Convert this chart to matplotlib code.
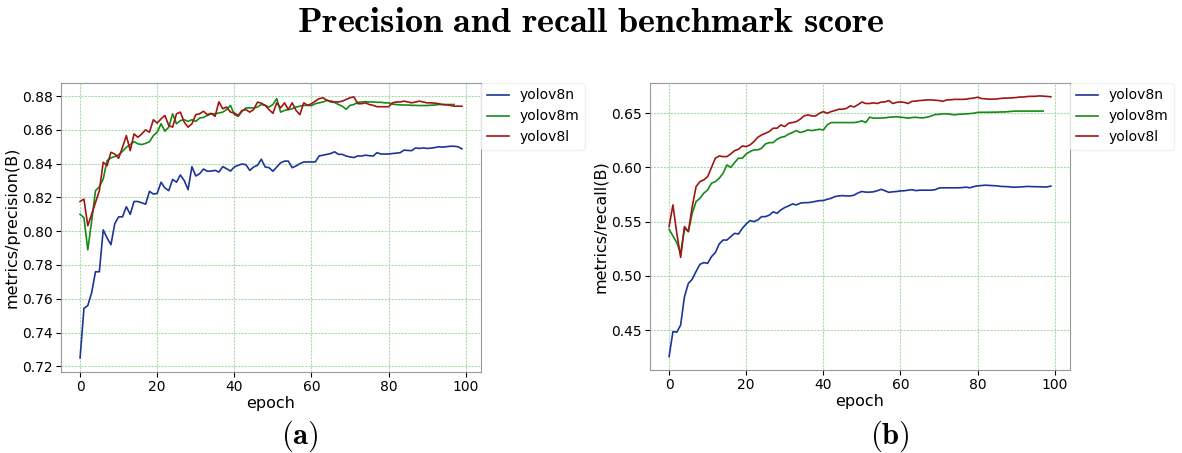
import numpy as np
import matplotlib
matplotlib.use('Agg')
import matplotlib.pyplot as plt

plt.rcParams['mathtext.fontset'] = 'cm'

labels = ['yolov8n', 'yolov8m', 'yolov8l']
colors = ['#1c3596', '#158a15', '#a01515']

# precision(B) per epoch
prec_n = [0.725, 0.7543, 0.756, 0.7636, 0.776, 0.776, 0.8008, 0.796, 0.792, 0.8045,
          0.8085, 0.8085, 0.8145, 0.810, 0.8176, 0.8176, 0.8168, 0.816, 0.8236, 0.822,
          0.8224, 0.829, 0.8256, 0.824, 0.8307, 0.829, 0.8333, 0.830, 0.8246, 0.8382,
          0.8327, 0.834, 0.8368, 0.8355, 0.8356, 0.836, 0.835, 0.8382, 0.837, 0.8356,
          0.838, 0.839, 0.8398, 0.8394, 0.836, 0.838, 0.839, 0.8426, 0.838, 0.8376,
          0.8355, 0.838, 0.8405, 0.8415, 0.8415, 0.8376, 0.8386, 0.840, 0.841, 0.841,
          0.841, 0.841, 0.8446, 0.845, 0.8455, 0.846, 0.847, 0.8455, 0.8455, 0.8445,
          0.844, 0.8436, 0.8446, 0.8445, 0.845, 0.8447, 0.8445, 0.8465, 0.8457, 0.8457,
          0.8457, 0.846, 0.8462, 0.8465, 0.848, 0.8478, 0.8477, 0.8493, 0.849, 0.8493,
          0.849, 0.8492, 0.8495, 0.850, 0.8498, 0.850, 0.8503, 0.8503, 0.850, 0.8488]
prec_m = [0.810, 0.808, 0.789, 0.806, 0.824, 0.8263, 0.8309, 0.8418, 0.8434, 0.8442,
          0.8453, 0.8473, 0.8497, 0.8513, 0.853, 0.8517, 0.8513, 0.852, 0.853, 0.8566,
          0.8586, 0.8636, 0.8592, 0.8616, 0.8695, 0.8636, 0.8655, 0.866, 0.865, 0.866,
          0.865, 0.867, 0.8674, 0.8685, 0.8695, 0.8695, 0.870, 0.8705, 0.872, 0.8745,
          0.869, 0.868, 0.871, 0.873, 0.873, 0.873, 0.8735, 0.875, 0.8745, 0.8735,
          0.875, 0.8785, 0.8705, 0.8715, 0.872, 0.8725, 0.8735, 0.874, 0.8745, 0.8745,
          0.8743, 0.8755, 0.876, 0.8765, 0.8775, 0.8765, 0.8762, 0.875, 0.874, 0.8722,
          0.8745, 0.875, 0.8763, 0.8765, 0.8767, 0.8765, 0.8765, 0.8763, 0.8763, 0.876,
          0.876, 0.8752, 0.875, 0.8748, 0.8747, 0.8747, 0.8745, 0.8745, 0.8744, 0.8744,
          0.8744, 0.8746, 0.8747, 0.875, 0.875, 0.875, 0.875, 0.875]
prec_l = [0.8176, 0.819, 0.8032, 0.810, 0.817, 0.824, 0.8408, 0.8388, 0.8467, 0.8457,
          0.8432, 0.8497, 0.8566, 0.8477, 0.8576, 0.8556, 0.8576, 0.860, 0.8586, 0.866,
          0.864, 0.8665, 0.8685, 0.8626, 0.8616, 0.8695, 0.8705, 0.8646, 0.8616, 0.8636,
          0.869, 0.8695, 0.871, 0.869, 0.8698, 0.868, 0.8766, 0.8725, 0.8735, 0.8705,
          0.870, 0.8685, 0.8715, 0.872, 0.8705, 0.872, 0.8764, 0.8758, 0.8745, 0.872,
          0.8698, 0.876, 0.873, 0.876, 0.872, 0.876, 0.8715, 0.869, 0.876, 0.8745,
          0.8755, 0.877, 0.8785, 0.879, 0.8775, 0.877, 0.8765, 0.8765, 0.877, 0.878,
          0.879, 0.8795, 0.8755, 0.8755, 0.876, 0.875, 0.8745, 0.8737, 0.8737, 0.8737,
          0.8737, 0.876, 0.8765, 0.8765, 0.877, 0.8765, 0.876, 0.8765, 0.877, 0.8765,
          0.876, 0.876, 0.8758, 0.8755, 0.875, 0.8748, 0.8745, 0.874, 0.874, 0.874]

# recall(B) per epoch
rec_n = [0.4254, 0.4485, 0.448, 0.4546, 0.4808, 0.493, 0.4968, 0.504, 0.5106, 0.5122,
         0.5115, 0.5177, 0.5214, 0.5294, 0.533, 0.533, 0.5362, 0.5392, 0.5386, 0.5438,
         0.5478, 0.551, 0.550, 0.5515, 0.5546, 0.5546, 0.556, 0.559, 0.5577, 0.5608,
         0.563, 0.5645, 0.5663, 0.5654, 0.567, 0.5675, 0.5675, 0.568, 0.5687, 0.5694,
         0.5694, 0.5706, 0.5715, 0.5731, 0.5737, 0.574, 0.5737, 0.5737, 0.5745, 0.5765,
         0.5778, 0.5772, 0.5772, 0.5775, 0.5785, 0.5798, 0.5785, 0.577, 0.5775, 0.5778,
         0.5783, 0.5785, 0.579, 0.5795, 0.5786, 0.579, 0.579, 0.579, 0.579, 0.5795,
         0.581, 0.5812, 0.5812, 0.5812, 0.5812, 0.5812, 0.5814, 0.5818, 0.5812, 0.5823,
         0.583, 0.5833, 0.5836, 0.5834, 0.5832, 0.583, 0.5825, 0.5824, 0.5822, 0.5818,
         0.5818, 0.582, 0.5822, 0.5825, 0.5823, 0.5822, 0.5822, 0.582, 0.582, 0.5828]
rec_m = [0.543, 0.5368, 0.5306, 0.5208, 0.5438, 0.5408, 0.5577, 0.5685, 0.5715, 0.5762,
         0.5792, 0.5854, 0.5869, 0.590, 0.5946, 0.6023, 0.600, 0.6045, 0.6085, 0.6085,
         0.6125, 0.6146, 0.6162, 0.6162, 0.6177, 0.6217, 0.6229, 0.6229, 0.626, 0.6278,
         0.6285, 0.6308, 0.6322, 0.634, 0.6322, 0.6332, 0.6346, 0.634, 0.6346, 0.6352,
         0.6346, 0.6392, 0.6414, 0.6414, 0.6414, 0.6414, 0.6414, 0.6414, 0.6414, 0.642,
         0.643, 0.6414, 0.6463, 0.6455, 0.6455, 0.6455, 0.6458, 0.6463, 0.6465, 0.6468,
         0.6463, 0.646, 0.6455, 0.646, 0.6463, 0.6458, 0.6458, 0.6465, 0.6475, 0.6488,
         0.649, 0.6495, 0.6495, 0.649, 0.6485, 0.649, 0.6492, 0.6494, 0.6497, 0.650,
         0.6508, 0.6509, 0.6509, 0.6509, 0.651, 0.651, 0.6512, 0.6512, 0.6515, 0.6518,
         0.652, 0.652, 0.652, 0.652, 0.652, 0.652, 0.652, 0.652]
rec_l = [0.5454, 0.5654, 0.5392, 0.517, 0.5454, 0.5408, 0.5638, 0.5823, 0.5869, 0.5885,
         0.5915, 0.600, 0.6085, 0.6106, 0.610, 0.610, 0.6125, 0.6155, 0.6168, 0.6198,
         0.6192, 0.6208, 0.6238, 0.6278, 0.630, 0.6315, 0.6332, 0.6362, 0.6362, 0.6392,
         0.6377, 0.6408, 0.6414, 0.6423, 0.6445, 0.6475, 0.6485, 0.6475, 0.6475, 0.650,
         0.6515, 0.650, 0.6515, 0.6525, 0.6537, 0.6537, 0.6545, 0.6568, 0.6558, 0.658,
         0.6603, 0.659, 0.659, 0.6596, 0.659, 0.6603, 0.6605, 0.6617, 0.659, 0.660,
         0.6605, 0.660, 0.659, 0.661, 0.6612, 0.6617, 0.662, 0.6623, 0.6623, 0.662,
         0.6617, 0.661, 0.6623, 0.6624, 0.6628, 0.6628, 0.6628, 0.663, 0.6636, 0.664,
         0.6648, 0.6636, 0.6633, 0.663, 0.663, 0.6632, 0.6637, 0.664, 0.664, 0.6642,
         0.6645, 0.665, 0.665, 0.6655, 0.6656, 0.6656, 0.666, 0.6658, 0.6655, 0.6652]

fig = plt.figure(figsize=(11.82, 4.53), dpi=100)
ax1 = fig.add_axes([0.0516, 0.179, 0.3553, 0.638])
ax2 = fig.add_axes([0.5499, 0.183, 0.3553, 0.634])

panels = [(ax1, [prec_n, prec_m, prec_l], 'metrics/precision(B)'),
          (ax2, [rec_n, rec_m, rec_l], 'metrics/recall(B)')]

for ax, series, ylab in panels:
    for vals, lab, c in zip(series, labels, colors):
        ax.plot(np.arange(len(vals)), vals, color=c, lw=1.2, label=lab)
    ax.grid(True, color='#a8dca8', linestyle=(0, (2, 1)), linewidth=0.8)
    ax.set_xlabel('epoch', fontsize=11.5, labelpad=1)
    ax.set_ylabel(ylab, fontsize=11.5, labelpad=2)
    ax.tick_params(labelsize=10, pad=2.5)
    for sp in ax.spines.values():
        sp.set_color('#999999')
    ax.set_xticks([0, 20, 40, 60, 80, 100])
    ax.legend(loc='upper left', bbox_to_anchor=(1.0, 1.0), borderaxespad=0,
              fontsize=10, handlelength=1.6, frameon=True, edgecolor='#eeeeee',
              fancybox=True)

ax1.set_yticks(np.arange(0.72, 0.881, 0.02))
ax1.set_ylim(0.7167, 0.8878)
ax2.set_yticks([0.45, 0.50, 0.55, 0.60, 0.65])
ax2.set_ylim(0.413, 0.678)

fig.text(0.5, 0.951, r'$\mathbf{Precision\ and\ recall\ benchmark\ score}$',
         ha='center', va='center', fontsize=26)
fig.text(0.254, 0.037, r'$\mathbf{(a)}$', ha='center', va='center', fontsize=22)
fig.text(0.753, 0.037, r'$\mathbf{(b)}$', ha='center', va='center', fontsize=22)

fig.savefig('out.png', dpi=100)
